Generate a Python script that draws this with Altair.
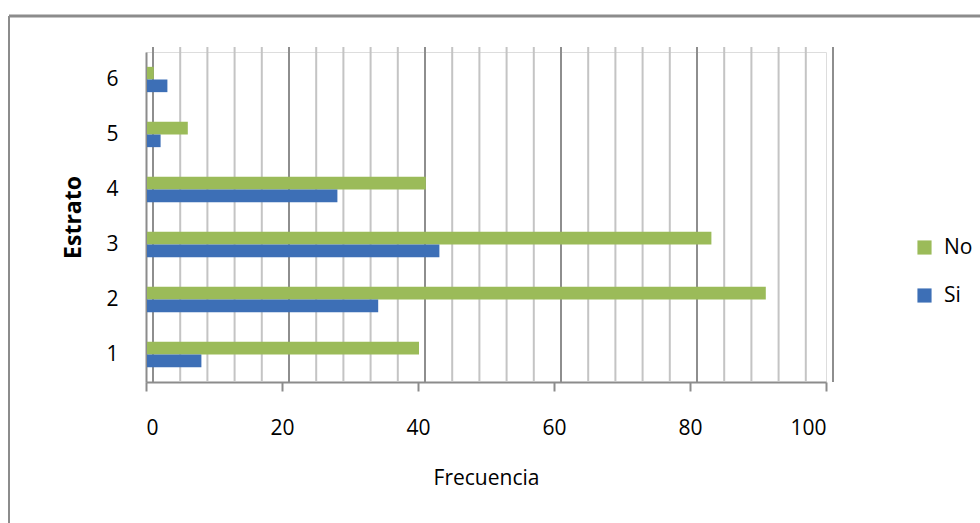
import altair as alt
import pandas as pd

# Frequencies per stratum, split by answer
estratos = ["1", "2", "3", "4", "5", "6"]
si_values = [8, 34, 43, 28, 2, 3]
no_values = [40, 91, 83, 41, 6, 1]

series_names = ["No", "Si"]
series_colors = ["#9bbb59", "#3d6fb6"]

x_ticks = [0, 20, 40, 60, 80, 100]
grid_minor = [v for v in range(0, 101, 4) if v % 20 != 0]
grid_major = x_ticks

FONT = "Open Sans"

rows = []
for e, s, n in zip(estratos, si_values, no_values):
    rows.append({"Estrato": e, "Serie": "No", "Frecuencia": n})
    rows.append({"Estrato": e, "Serie": "Si", "Frecuencia": s})
df = pd.DataFrame(rows)

x_scale = alt.Scale(domain=[0, 100], nice=False, zero=True)
x_axis = alt.Axis(
    values=x_ticks,
    title="Frecuencia",
    grid=False,
    domainColor="#8c8c8c",
    domainWidth=2,
    tickColor="#8c8c8c",
    tickWidth=2,
    tickSize=9,
    labelPadding=26,
    labelFontSize=21,
    labelColor="#000000",
    titleFontSize=21,
    titleFontWeight="normal",
    titleColor="#000000",
    titlePadding=29,
)

# back-wall gridlines, nudged to suggest depth
minor = alt.Chart(pd.DataFrame({"Frecuencia": grid_minor})).mark_rule(
    color="#c4c4c4", strokeWidth=2, xOffset=7, yOffset=-5
).encode(x=alt.X("Frecuencia:Q", scale=x_scale, axis=x_axis))

major = alt.Chart(pd.DataFrame({"Frecuencia": grid_major})).mark_rule(
    color="#8e8e8e", strokeWidth=2, xOffset=7, yOffset=-5
).encode(x=alt.X("Frecuencia:Q", scale=x_scale, axis=x_axis))

bars = alt.Chart(df).mark_bar(xOffset=1).encode(
    x=alt.X("Frecuencia:Q", scale=x_scale, axis=x_axis),
    y=alt.Y(
        "Estrato:N",
        sort=list(reversed(estratos)),
        scale=alt.Scale(paddingInner=0.54, paddingOuter=0.27),
        axis=alt.Axis(
            title="Estrato",
            ticks=False,
            domainColor="#8c8c8c",
            domainWidth=2,
            labelPadding=28,
            labelFontSize=21,
            labelColor="#000000",
            labelAngle=0,
            titleFontSize=23,
            titleFontWeight="bold",
            titleColor="#000000",
            titlePadding=20,
        ),
    ),
    yOffset=alt.YOffset("Serie:N", sort=series_names),
    color=alt.Color(
        "Serie:N",
        scale=alt.Scale(domain=series_names, range=series_colors),
        legend=alt.Legend(
            title=None,
            orient="none",
            legendX=768,
            legendY=185,
            symbolType="square",
            symbolSize=200,
            symbolStrokeWidth=0,
            labelFontSize=21,
            labelColor="#000000",
            labelOffset=9,
            rowPadding=26,
        ),
    ),
)

# outer chart frame
frame_top = alt.Chart(pd.DataFrame({"k": [0]})).mark_rule(
    color="#8c8c8c", strokeWidth=3
).encode(x=alt.value(-137), x2=alt.value(840), y=alt.value(-36))
frame_left = alt.Chart(pd.DataFrame({"k": [0]})).mark_rule(
    color="#8c8c8c", strokeWidth=2
).encode(x=alt.value(-137), y=alt.value(-36), y2=alt.value(480))

chart = (
    alt.layer(minor, major, bars, frame_top, frame_left)
    .properties(
        width=680,
        height=330,
        padding={"left": 146, "top": 52, "right": 154, "bottom": 141},
        autosize=alt.AutoSizeParams(type="none"),
        background="#ffffff",
    )
    .configure_view(stroke=None, clip=False)
    .configure(font=FONT)
)

chart.save("out.html", embed_options={"renderer": "svg", "actions": False})
